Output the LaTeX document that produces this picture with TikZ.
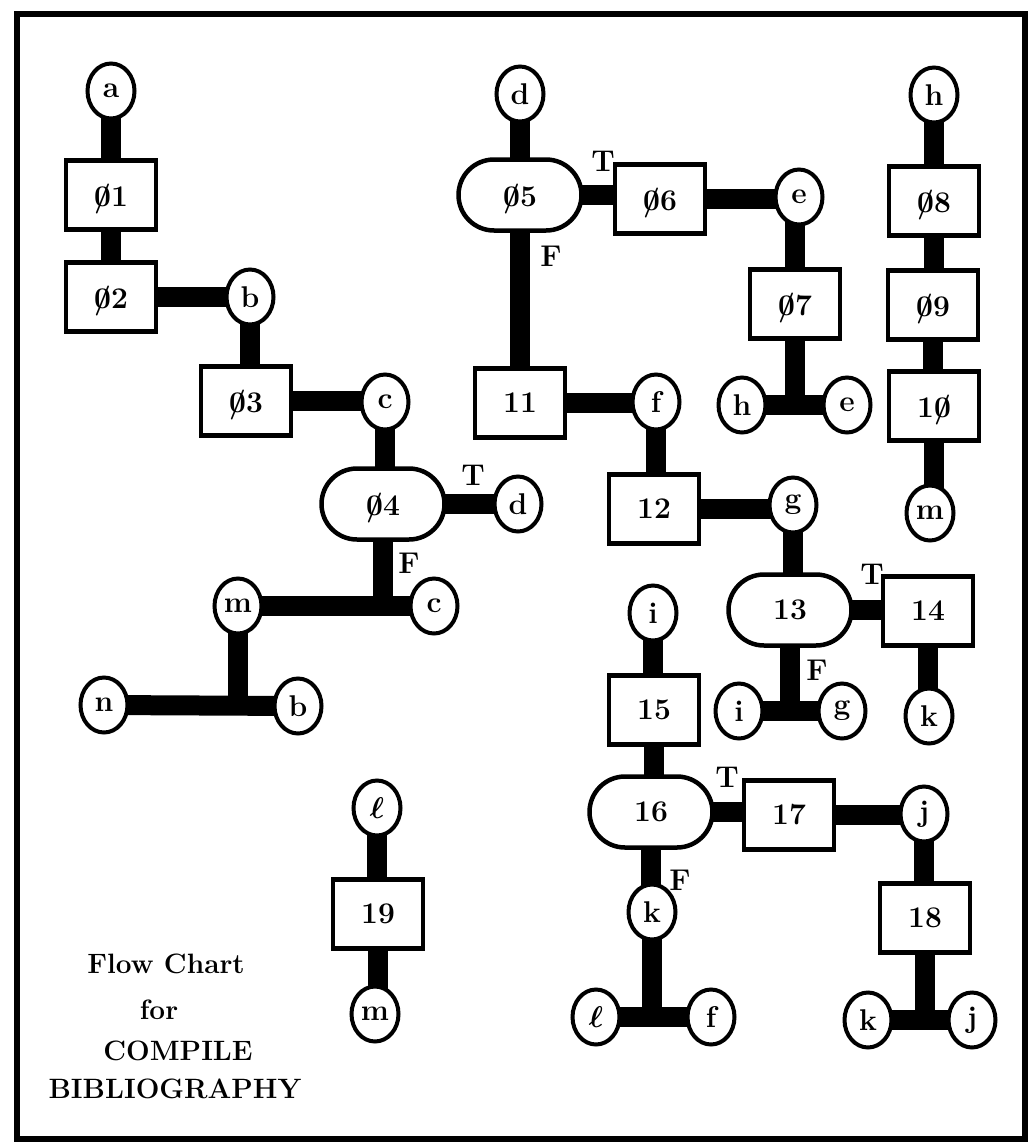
\RequirePackage{fix-cm}
\documentclass[tikz,border=0pt]{standalone}
\usetikzlibrary{shapes.geometric,shapes.misc,backgrounds}
\newcommand{\sz}{\ooalign{\hidewidth/\hidewidth\cr0}}
\tikzset{
  every node/.style={font=\fontsize{30}{32}\selectfont\bfseries\boldmath},
  conn/.style={line width=20pt, line cap=butt},
  pbox/.style={draw, line width=4.5pt, fill=white, minimum width=90pt, minimum height=69pt, inner sep=0pt},
  rbox/.style={rounded rectangle, draw, line width=4.5pt, fill=white, minimum width=123pt, minimum height=71pt, inner sep=0pt},
  conc/.style={ellipse, draw, line width=4pt, fill=white, minimum width=47pt, minimum height=55pt, inner sep=0pt},
  tf/.style={inner sep=0pt},
  ttl/.style={inner sep=0pt, anchor=base, font=\fontsize{28}{30}\selectfont\bfseries}
}
\begin{document}
\begin{tikzpicture}[x=1pt,y=-1pt]
\useasboundingbox (0,0) rectangle (1028,1143);
\draw[line width=5.5pt] (17,14) rectangle (1025,1139);
% left group
\node[conc] (a) at (111,91) {a};
\node[pbox] (p1) at (111,195) {\sz1};
\node[pbox] (p2) at (111,297) {\sz2};
\node[conc] (b1) at (250,297) {b};
\node[pbox] (p3) at (246,401) {\sz3};
\node[conc] (c1) at (385,402) {c};
\node[rbox] (p4) at (383,504) {\sz4};
\node[conc] (d2) at (518,504) {d};
\node[conc] (m2) at (238,606) {m};
\node[conc] (c2) at (434,606) {c};
\node[conc] (n) at (104,705) {n};
\node[conc] (b2) at (298,706) {b};
% middle group
\node[conc] (d1) at (520,94) {d};
\node[rbox] (p5) at (520,195) {\sz5};
\node[pbox] (p6) at (660,199) {\sz6};
\node[conc] (e1) at (799,197) {e};
\node[pbox] (p7) at (795,304) {\sz7};
\node[conc] (h2) at (742,405) {h};
\node[conc] (e2) at (847,405) {e};
\node[pbox] (p11) at (520,403) {11};
\node[conc] (f1) at (656,402) {f};
\node[pbox] (p12) at (654,509) {12};
\node[conc] (g1) at (793,505) {g};
\node[rbox] (p13) at (790,610) {13};
\node[pbox] (p14) at (928,611) {14};
\node[conc] (i2) at (739,711) {i};
\node[conc] (g2) at (842,711) {g};
\node[conc] (k1) at (929,716) {k};
% right column
\node[conc] (h1) at (934,95) {h};
\node[pbox] (p8) at (934,201) {\sz8};
\node[pbox] (p9) at (933,305) {\sz9};
\node[pbox] (p10) at (934,406) {1\sz};
\node[conc] (m1) at (930,513) {m};
% lower right
\node[conc] (i1) at (653,613) {i};
\node[pbox] (p15) at (654,710) {15};
\node[rbox] (p16) at (651,812) {16};
\node[pbox] (p17) at (789,815) {17};
\node[conc] (j1) at (924,814) {j};
\node[pbox] (p18) at (925,918) {18};
\node[conc] (k3) at (868,1020) {k};
\node[conc] (j2) at (972,1020) {j};
\node[conc] (k2) at (652,912) {k};
\node[conc] (l1) at (596,1017) {$\ell$};
\node[conc] (f2) at (711,1017) {f};
% lower left
\node[conc] (l2) at (377,808) {$\ell$};
\node[pbox] (p19) at (378,914) {19};
\node[conc] (m3) at (375,1014) {m};
% T / F labels
\node[tf] (t5) at (603,161) {T};
\node[tf] (f5) at (551,256) {F};
\node[tf] (t4) at (473,475) {T};
\node[tf] (f4) at (409,563) {F};
\node[tf] (t13) at (872,574) {T};
\node[tf] (f13) at (817,670) {F};
\node[tf] (t16) at (727,777) {T};
\node[tf] (f16) at (680,880) {F};
% title
\node[ttl] (ttl1) at (166,973) {Flow Chart};
\node[ttl] (ttl2) at (159,1019) {for};
\node[ttl] (ttl3) at (178,1060) {COMPILE};
\node[ttl] (ttl4) at (175,1098) {BIBLIOGRAPHY};
\begin{scope}[on background layer]
\fill[white] (0,0) rectangle (1028,1143);
\begin{scope}[conn]
\draw (a.center) -- (a |- p1);
\draw (p1.center) -- (p1 |- p2);
\draw (p2.center) -- (p2 -| b1);
\draw (b1.center) -- (b1 |- p3);
\draw (p3.center) -- (p3 -| c1);
\draw (c1.center) -- (c1 |- p4);
\draw (p4.center) -- (p4 -| d2);
\draw (p4.center) -- (p4 |- c2);
\draw (m2.center) -- (c2.center);
\draw (m2.center) -- (m2 |- n);
\draw (n.center) -- (b2.center);
\draw (d1.center) -- (d1 |- p5);
\draw (p5.center) -- (p5 -| p6);
\draw (p6.center) -- (p6 -| e1);
\draw (p7.center) -- (p7 |- e1);
\draw (p7.center) -- (p7 |- e2);
\draw (h2.center) -- (e2.center);
\draw (p5.center) -- (p5 |- p11);
\draw (p11.center) -- (p11 -| f1);
\draw (f1.center) -- (f1 |- p12);
\draw (p12.center) -- (p12 -| g1);
\draw (g1.center) -- (g1 |- p13);
\draw (p13.center) -- (p13 -| p14);
\draw (p13.center) -- (p13 |- g2);
\draw (i2.center) -- (g2.center);
\draw (p14.center) -- (p14 |- k1);
\draw (h1.center) -- (h1 |- p8);
\draw (p8.center) -- (p8 |- p9);
\draw (p9.center) -- (p9 |- p10);
\draw (p10.center) -- (p10 |- m1);
\draw (i1.center) -- (i1 |- p15);
\draw (p15.center) -- (p15 |- p16);
\draw (p16.center) -- (p16 -| p17);
\draw (p17.center) -- (p17 -| j1);
\draw (j1.center) -- (j1 |- p18);
\draw (p18.center) -- (p18 |- j2);
\draw (k3.center) -- (j2.center);
\draw (p16.center) -- (p16 |- k2);
\draw (k2.center) -- (k2 |- l1);
\draw (l1.center) -- (f2.center);
\draw (l2.center) -- (l2 |- p19);
\draw (p19.center) -- (p19 |- m3);
\end{scope}
\end{scope}
\end{tikzpicture}
\end{document}
